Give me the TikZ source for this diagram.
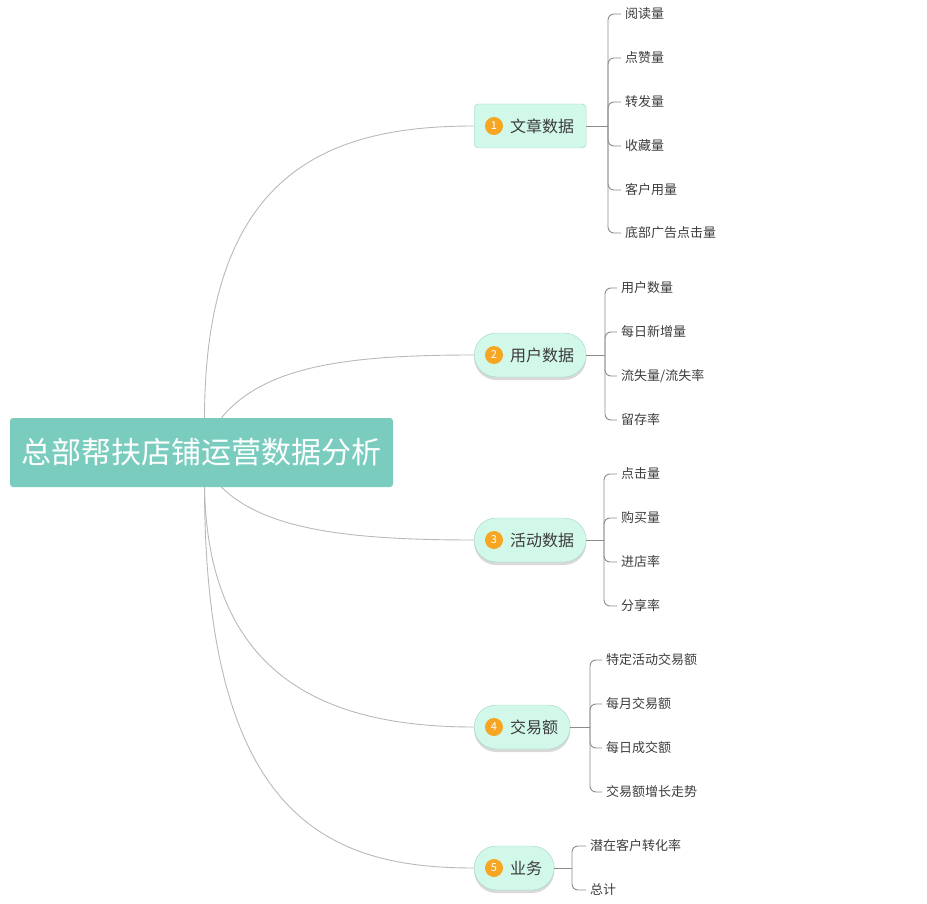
\documentclass[tikz,border=0pt]{standalone}
\usepackage{fontspec}
\setmainfont{Noto Sans CJK SC}
\usetikzlibrary{shadows}
\definecolor{rootfill}{RGB}{122,205,190}
\definecolor{branchfill}{RGB}{210,248,234}
\definecolor{branchline}{RGB}{160,212,192}
\definecolor{badgefill}{RGB}{246,166,35}
\definecolor{curvegray}{RGB}{185,185,185}
\definecolor{twiggray}{RGB}{140,140,140}
\definecolor{textgray}{RGB}{60,60,60}
\tikzset{
  root/.style={rectangle, rounded corners=3pt, fill=rootfill, text=white, minimum width=383pt, minimum height=69pt, font=\fontsize{30}{34}\selectfont},
  branchbox/.style={anchor=west, draw=branchline, fill=branchfill, text=textgray, minimum height=44pt, inner xsep=12pt, font=\fontsize{16}{19}\selectfont},
  card/.style={branchbox, rounded corners=4pt},
  pill/.style={branchbox, rounded corners=22pt, drop shadow={shadow xshift=0pt, shadow yshift=-3pt, opacity=0.25, fill=black!60}},
  badge/.style={circle, fill=badgefill, text=white, minimum size=18pt, inner sep=0pt, font=\fontsize{11}{12}\selectfont},
  leaf/.style={anchor=west, inner xsep=4pt, text=textgray, font=\fontsize{13}{15}\selectfont},
  limb/.style={draw=curvegray, line width=0.9pt},
  twig/.style={draw=twiggray, line width=0.9pt, rounded corners=6pt}
}
\newcommand{\mmbranch}[5] {\node at (#1) (#2) [#5] {\hspace*{24pt}#4}; \node at ([xshift=20pt]#2.west) (#2n) [badge] {#3};}
\newcommand{\mmleaf}[3] {\node at (#1) (#2) [leaf] {#3};}
\newcommand{\mmtwig}[2] {\draw [twig] (#1) |- (#2.west);}
\begin{document}
\begin{tikzpicture}[x=1pt, y=-1pt]
\useasboundingbox (0,0) rectangle (927,904);

% root and main branches
\node at (201.5,452.5) (root) [root] {总部帮扶店铺运营数据分析};
\mmbranch {474,126} {b1} {1} {文章数据} {card};
\mmbranch {474,355} {b2} {2} {用户数据} {pill};
\mmbranch {474,540} {b3} {3} {活动数据} {pill};
\mmbranch {474,727} {b4} {4} {交易额} {pill};
\mmbranch {474,868} {b5} {5} {业务} {pill};

\draw [limb] ([xshift=3pt]root.north) .. controls (205,170) and (330,126) .. (b1.west);
\draw [limb] ([xshift=20pt]root.north) .. controls (265,365) and (350,355) .. (b2.west);
\draw [limb] ([xshift=20pt]root.south) .. controls (265,530) and (350,540) .. (b3.west);
\draw [limb] ([xshift=3pt]root.south) .. controls (208,680) and (330,727) .. (b4.west);
\draw [limb] ([xshift=3pt]root.south) .. controls (205,820) and (330,868) .. (b5.west);

% leaves of branch 1
\coordinate (j1) at (608,126);
\draw [twig] (b1.east) -- (j1);
\mmleaf {621,14} {l11} {阅读量};
\mmleaf {621,58} {l12} {点赞量};
\mmleaf {621,102} {l13} {转发量};
\mmleaf {621,146} {l14} {收藏量};
\mmleaf {621,190} {l15} {客户用量};
\mmleaf {621,233} {l16} {底部广告点击量};
\mmtwig{j1}{l11}; \mmtwig{j1}{l12}; \mmtwig{j1}{l13};
\mmtwig{j1}{l14}; \mmtwig{j1}{l15}; \mmtwig{j1}{l16};

% leaves of branch 2
\coordinate (j2) at (605,355);
\draw [twig] (b2.east) -- (j2);
\mmleaf {617,288} {l21} {用户数量};
\mmleaf {617,332} {l22} {每日新增量};
\mmleaf {617,376} {l23} {流失量/流失率};
\mmleaf {617,420} {l24} {留存率};
\mmtwig{j2}{l21}; \mmtwig{j2}{l22}; \mmtwig{j2}{l23}; \mmtwig{j2}{l24};

% leaves of branch 3
\coordinate (j3) at (604,540);
\draw [twig] (b3.east) -- (j3);
\mmleaf {617,474} {l31} {点击量};
\mmleaf {617,518} {l32} {购买量};
\mmleaf {617,562} {l33} {进店率};
\mmleaf {617,606} {l34} {分享率};
\mmtwig{j3}{l31}; \mmtwig{j3}{l32}; \mmtwig{j3}{l33}; \mmtwig{j3}{l34};

% leaves of branch 4
\coordinate (j4) at (590,727);
\draw [twig] (b4.east) -- (j4);
\mmleaf {602,660} {l41} {特定活动交易额};
\mmleaf {602,704} {l42} {每月交易额};
\mmleaf {602,748} {l43} {每日成交额};
\mmleaf {602,792} {l44} {交易额增长走势};
\mmtwig{j4}{l41}; \mmtwig{j4}{l42}; \mmtwig{j4}{l43}; \mmtwig{j4}{l44};

% leaves of branch 5
\coordinate (j5) at (572,868);
\draw [twig] (b5.east) -- (j5);
\mmleaf {586,846} {l51} {潜在客户转化率};
\mmleaf {586,890} {l52} {总计};
\mmtwig{j5}{l51}; \mmtwig{j5}{l52};

\end{tikzpicture}
\end{document}
